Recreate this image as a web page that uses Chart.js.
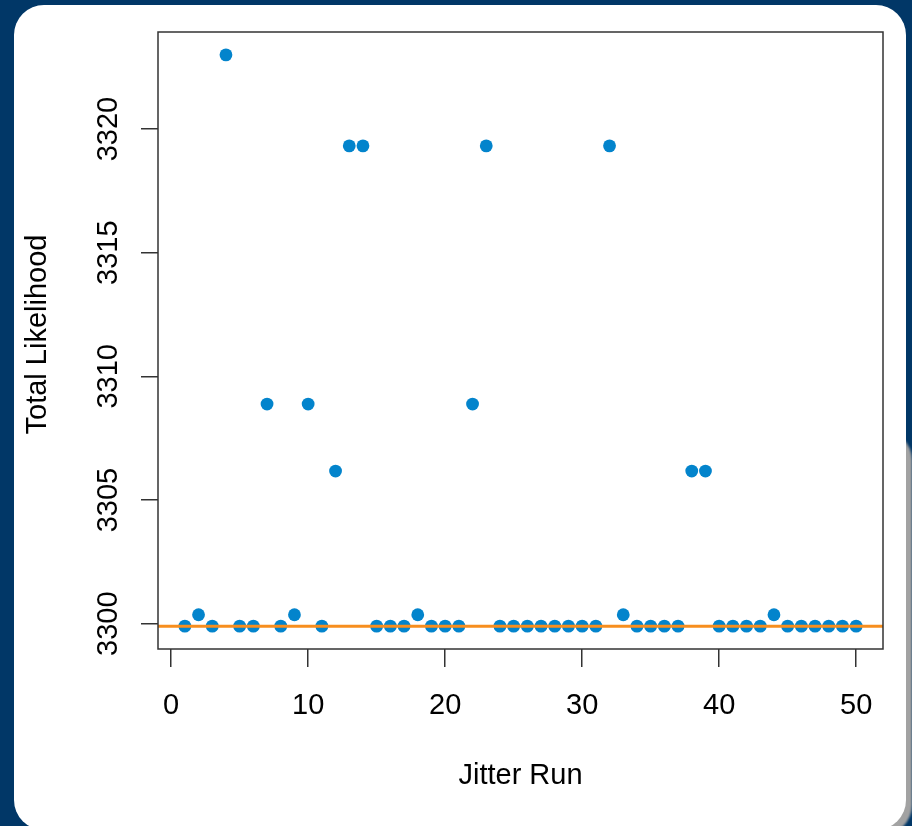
<!DOCTYPE html>
<html>
<head>
<meta charset="utf-8">
<script src="https://cdn.jsdelivr.net/npm/chart.js@4/dist/chart.umd.min.js"></script>
<style>
  html, body { margin: 0; padding: 0; width: 912px; height: 826px; overflow: hidden; background: #013767; }
  #shadow { position: absolute; left: 24px; top: 430px; width: 888px; height: 405px; border-radius: 30px;
            background: linear-gradient(to right, #d6d6d6, #a2a2a2); filter: blur(1px); }
  #card { position: absolute; left: 14px; top: 5px; width: 892px; height: 825px; border-radius: 30px; background: #ffffff; }
  #wrap { position: absolute; left: 0; top: 0; width: 912px; height: 826px; }
</style>
</head>
<body>
<div id="shadow"></div>
<div id="card"></div>
<div id="wrap"><canvas id="chart"></canvas></div>
<script>
// Total likelihood reached by each jitter run
const runs = [
  1, 2, 3, 4, 5, 6, 7, 8, 9, 10,
  11, 12, 13, 14, 15, 16, 17, 18, 19, 20,
  21, 22, 23, 24, 25, 26, 27, 28, 29, 30,
  31, 32, 33, 34, 35, 36, 37, 38, 39, 40,
  41, 42, 43, 44, 45, 46, 47, 48, 49, 50
];
const likelihood = [
  3299.9, 3300.36, 3299.9, 3323.0, 3299.9, 3299.9, 3308.88, 3299.9, 3300.36, 3308.88,
  3299.9, 3306.17, 3319.32, 3319.32, 3299.9, 3299.9, 3299.9, 3300.36, 3299.9, 3299.9,
  3299.9, 3308.88, 3319.32, 3299.9, 3299.9, 3299.9, 3299.9, 3299.9, 3299.9, 3299.9,
  3299.9, 3319.32, 3300.36, 3299.9, 3299.9, 3299.9, 3299.9, 3306.17, 3306.17, 3299.9,
  3299.9, 3299.9, 3299.9, 3300.36, 3299.9, 3299.9, 3299.9, 3299.9, 3299.9, 3299.9
];
// Reference level: the best (lowest) total likelihood
const refLevel = 3299.9;

const xTicks = [0, 10, 20, 30, 40, 50];
const yTicks = [3300, 3305, 3310, 3315, 3320];
const xTitle = 'Jitter Run';
const yTitle = 'Total Likelihood';

// Axis limits padded by 4% of the data range on each side
function padRange(vals) {
  const lo = Math.min(...vals), hi = Math.max(...vals);
  const d = (hi - lo) * 0.04;
  return [lo - d, hi + d];
}
const [xMin, xMax] = padRange(runs);
const [yMin, yMax] = padRange(likelihood);

const FONT = '29px "Liberation Sans", Arial, sans-serif';
const INK = '#333333';

// Plot box, tick labels and axis titles
const boxAndLabels = {
  id: 'boxAndLabels',
  afterDraw(chart) {
    const { ctx, chartArea: a, scales } = chart;
    ctx.save();
    ctx.strokeStyle = INK;
    ctx.lineWidth = 1.5;
    ctx.strokeRect(a.left, a.top, a.right - a.left, a.bottom - a.top);

    ctx.fillStyle = '#000';
    ctx.font = FONT;
    ctx.textAlign = 'center';
    ctx.textBaseline = 'alphabetic';
    scales.x.ticks.forEach(t => {
      ctx.fillText(String(t.value), scales.x.getPixelForValue(t.value), a.bottom + 65);
    });
    scales.y.ticks.forEach(t => {
      ctx.save();
      ctx.translate(a.left - 41, scales.y.getPixelForValue(t.value));
      ctx.rotate(-Math.PI / 2);
      ctx.fillText(String(t.value), 0, 0);
      ctx.restore();
    });

    ctx.fillText(xTitle, (a.left + a.right) / 2, a.bottom + 135);
    ctx.save();
    ctx.translate(a.left - 112, (a.top + a.bottom) / 2 - 6);
    ctx.rotate(-Math.PI / 2);
    ctx.fillText(yTitle, 0, 0);
    ctx.restore();
    ctx.restore();
  }
};

new Chart(document.getElementById('chart'), {
  type: 'scatter',
  data: {
    datasets: [
      {
        type: 'line',
        data: [{ x: xMin, y: refLevel }, { x: xMax, y: refLevel }],
        borderColor: '#F78E1E',
        borderWidth: 3,
        pointRadius: 0,
        fill: false,
        order: 0
      },
      {
        data: runs.map((r, i) => ({ x: r, y: likelihood[i] })),
        backgroundColor: '#0384CC',
        borderWidth: 0,
        pointRadius: 6.4,
        pointHoverRadius: 6.4,
        order: 1
      }
    ]
  },
  options: {
    responsive: true,
    maintainAspectRatio: false,
    animation: false,
    events: [],
    layout: { padding: { left: 141, right: 29, top: 32, bottom: 159 } },
    plugins: { legend: { display: false }, tooltip: { enabled: false } },
    scales: {
      x: {
        type: 'linear',
        min: xMin,
        max: xMax,
        afterBuildTicks: s => { s.ticks = xTicks.map(v => ({ value: v })); },
        ticks: { display: false },
        border: { display: false },
        grid: { drawOnChartArea: false, drawTicks: true, tickLength: 18, color: INK, lineWidth: 1.5 }
      },
      y: {
        type: 'linear',
        min: yMin,
        max: yMax,
        afterBuildTicks: s => { s.ticks = yTicks.map(v => ({ value: v })); },
        ticks: { display: false },
        border: { display: false },
        grid: { drawOnChartArea: false, drawTicks: true, tickLength: 17, color: INK, lineWidth: 1.5 }
      }
    }
  },
  plugins: [boxAndLabels]
});
</script>
</body>
</html>
